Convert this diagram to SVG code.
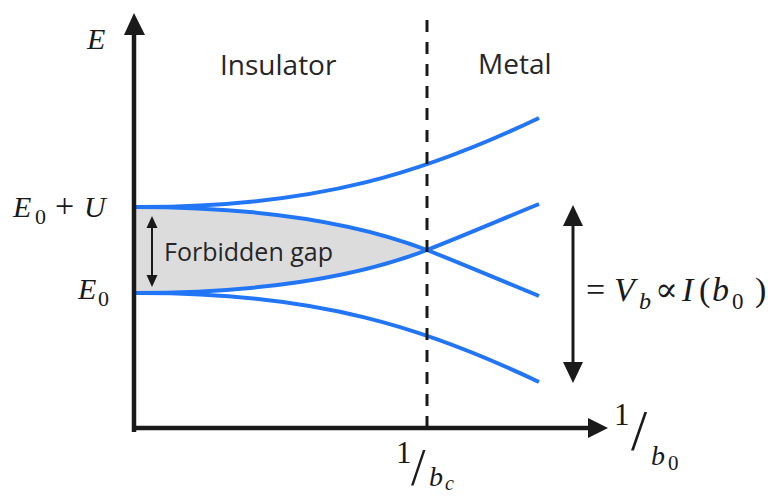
<svg xmlns="http://www.w3.org/2000/svg" width="768" height="497" viewBox="0 0 768 497">
<style>
.band{fill:none;stroke:#2276f5;stroke-width:4;stroke-linecap:butt}
.axis{stroke:#1a1a1a;stroke-width:4.5;fill:none}
.math{font-family:"Liberation Serif","DejaVu Serif",serif;font-style:italic;fill:#1a1a1a}
.rm{font-family:"Liberation Serif","DejaVu Serif",serif;font-style:normal;fill:#1a1a1a}
.lbl{font-family:"Open Sans","Noto Sans",sans-serif;fill:#262626}
</style>
<rect width="768" height="497" fill="#ffffff"/>
<g id="gap-fill">
<path d="M134,207 C280,207 370,228 427,250 C370,272 280,293 134,293 Z" fill="#dcdcdc"/>
</g>
<g id="bands">
<path class="band" d="M134,207 C320,208 430,170 539,118"/>
<path class="band" d="M134,207 C280,207 370,228 427,250 C465,265 500,280 539,296"/>
<path class="band" d="M134,293 C280,293 370,272 427,250 C465,235 500,220 539,204"/>
<path class="band" d="M134,293 C320,292 430,330 539,382"/>
</g>
<g id="connectors">
<line x1="427" y1="20" x2="427" y2="430" stroke="#1a1a1a" stroke-width="3" stroke-dasharray="12,10"/>
<line class="axis" x1="134" y1="432" x2="134" y2="32"/>
<polygon points="134,13 124,35 145,35" fill="#1a1a1a"/>
<line class="axis" x1="132" y1="428" x2="590" y2="428"/>
<polygon points="608,428 588,418 588,438" fill="#1a1a1a"/>
<line x1="152" y1="226" x2="152" y2="277" stroke="#1a1a1a" stroke-width="2"/>
<polygon points="152,216 146.5,228 157.5,228" fill="#1a1a1a"/>
<polygon points="152,287 146.5,275 157.5,275" fill="#1a1a1a"/>
<line x1="573" y1="222" x2="573" y2="366" stroke="#1a1a1a" stroke-width="3"/>
<polygon points="573,205 563,226 583,226" fill="#1a1a1a"/>
<polygon points="573,383 563,362 583,362" fill="#1a1a1a"/>
</g>
<g id="label-E"><text class="math" x="87" y="49" font-size="30">E</text></g>
<g id="label-E0U"><text class="math" font-size="30"><tspan x="13" y="217">E</tspan><tspan class="rm" x="35" y="224" font-size="22">0</tspan><tspan class="rm" x="55" y="217" font-size="34">+</tspan><tspan x="84" y="217">U</tspan></text></g>
<g id="label-E0"><text class="math" font-size="30"><tspan x="78" y="299">E</tspan><tspan class="rm" x="98" y="306" font-size="22">0</tspan></text></g>
<g id="label-insulator"><text class="lbl" x="220" y="75" font-size="28">Insulator</text></g>
<g id="label-metal"><text class="lbl" x="478" y="74" font-size="28">Metal</text></g>
<g id="label-gap"><text class="lbl" x="164" y="261" font-size="25">Forbidden gap</text></g>
<g id="label-Vb"><text class="rm" font-size="34"><tspan x="586" y="301">=</tspan><tspan class="math" x="614" y="301">V</tspan><tspan class="math" x="639" y="309" font-size="24">b</tspan><tspan x="655" y="301">∝</tspan><tspan class="math" x="682" y="301">I</tspan><tspan x="699" y="301">(</tspan><tspan class="math" x="712" y="301">b</tspan><tspan x="732" y="309" font-size="23">0</tspan><tspan x="755" y="301">)</tspan></text></g>
<g id="label-1b0">
<text class="rm" x="614" y="425" font-size="31">1</text>
<text class="rm" x="631" y="450" font-size="58">/</text>
<text class="math" x="651" y="465" font-size="28">b</text>
<text class="rm" x="668" y="470" font-size="21">0</text>
</g>
<g id="label-1bc">
<text class="rm" x="396" y="463" font-size="31">1</text>
<text class="rm" x="411" y="485" font-size="52">/</text>
<text class="math" x="429" y="486" font-size="28">b</text>
<text class="math" x="445" y="490" font-size="20">c</text>
</g>
</svg>
